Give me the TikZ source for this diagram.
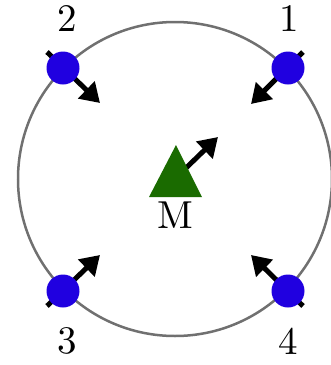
\documentclass[tikz,border=0pt]{standalone}
\usepackage{fontspec}
\setmainfont{lmroman10-regular}[Extension=.otf]
\usetikzlibrary{arrows.meta}
\definecolor{dotblue}{HTML}{2000E0}
\definecolor{mgreen}{HTML}{1A6B00}
\definecolor{ringgray}{HTML}{707070}
\begin{document}
\begin{tikzpicture}[x=1pt,y=-1pt,
  ring/.style={draw=ringgray,line width=2.5pt},
  station/.style={circle,fill=dotblue,minimum size=33pt,inner sep=0pt},
  vec/.style={line width=5pt,-{Triangle[length=19pt,width=23pt]}},
  lbl/.style={inner sep=0pt,font=\fontsize{39}{41}\selectfont}]
\useasboundingbox (0,0) rectangle (331,365);
\coordinate (C) at (175,179);
\draw[ring] (C) circle[radius=157];
% arrows through stations
\coordinate (s1) at (303,52);  \coordinate (t1) at (251,104);
\coordinate (s2) at (47,52);   \coordinate (t2) at (100,103);
\coordinate (s3) at (47,306);  \coordinate (t3) at (100,255);
\coordinate (s4) at (303,306); \coordinate (t4) at (251,255);
\draw[vec] (s1) -- (t1);
\draw[vec] (s2) -- (t2);
\draw[vec] (s3) -- (t3);
\draw[vec] (s4) -- (t4);
\node[station] (n1) at (288,68) {};
\node[station] (n2) at (63,68) {};
\node[station] (n3) at (63,291) {};
\node[station] (n4) at (288,291) {};
\node[lbl] (l1) at (289,18.5) {1};
\node[lbl] (l2) at (67,18.5) {2};
\node[lbl] (l3) at (67,341) {3};
\node[lbl] (l4) at (288,341) {4};
% M
\coordinate (ms) at (186,168); \coordinate (mt) at (218,137);
\draw[vec] (ms) -- (mt);
\fill[mgreen] (176,145) -- (149,197) -- (202,197) -- cycle;
\node[lbl] (M) at (175,215) {M};
\end{tikzpicture}
\end{document}
